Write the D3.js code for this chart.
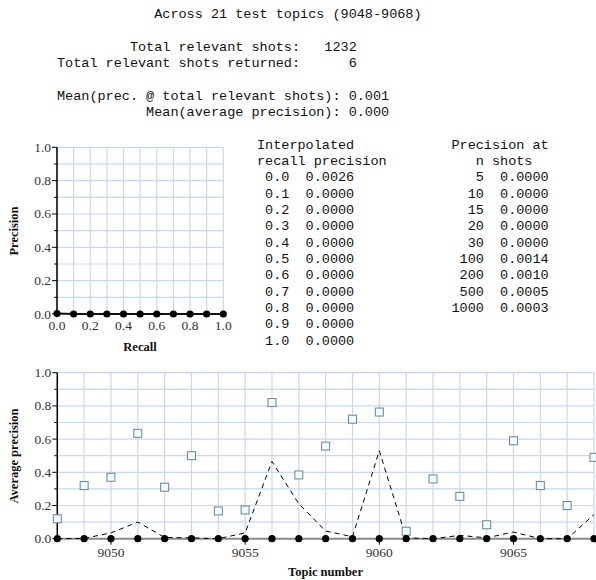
<!DOCTYPE html>
<html>
<head>
<meta charset="utf-8">
<script src="https://cdnjs.cloudflare.com/ajax/libs/d3/7.8.5/d3.min.js"></script>
<style>
  body { margin: 0; background: #fff; }
  svg text.mono { font-family: "Liberation Mono", "Courier New", monospace; font-size: 13.5px; white-space: pre; fill: #111; }
  svg text.title { font-family: "Liberation Serif", "Times New Roman", serif; font-size: 12.5px; font-weight: bold; fill: #111; }
</style>
</head>
<body>
<div id="chart"></div>
<script>

// SUMMARY TEXT
var summaryLines = [
  "            Across 21 test topics (9048-9068)",
  "",
  "         Total relevant shots:   1232",
  "Total relevant shots returned:      6",
  "",
  "Mean(prec. @ total relevant shots): 0.001",
  "           Mean(average precision): 0.000"
]

// INTERPOLATED RECALL / PRECISION
var recallLevels = [0.0, 0.1, 0.2, 0.3, 0.4, 0.5, 0.6, 0.7, 0.8, 0.9, 1.0]
var interpPrecision = [0.0026, 0.0000, 0.0000, 0.0000, 0.0000, 0.0000, 0.0000, 0.0000, 0.0000, 0.0000, 0.0000]

// PRECISION AT N SHOTS
var nShots = [5, 10, 15, 20, 30, 100, 200, 500, 1000]
var precAtN = [0.0000, 0.0000, 0.0000, 0.0000, 0.0000, 0.0014, 0.0010, 0.0005, 0.0003]

// PER TOPIC
var topics = d3.range(9048, 9069)
var topicBest = [0.12, 0.32, 0.37, 0.635, 0.31, 0.50, 0.167, 0.173, 0.82, 0.384, 0.558,
                 0.72, 0.763, 0.045, 0.36, 0.255, 0.084, 0.59, 0.32, 0.20, 0.49]
var topicMedian = [0.0, 0.002, 0.035, 0.10, 0.008, 0.005, 0.0, 0.035, 0.465, 0.21, 0.046,
                   0.012, 0.53, 0.005, 0.0, 0.02, 0.005, 0.04, 0.0, 0.0, 0.145]
var topicRun = [0, 0, 0, 0, 0, 0, 0, 0, 0, 0, 0, 0, 0, 0, 0, 0, 0, 0, 0, 0, 0]

var gridColor = "#c9d8f0"
var serifFont = "'Liberation Serif', 'Times New Roman', serif"
var lineH = 16.35

var svg = d3.select("#chart").append("svg")
    .attr("width", 596)
    .attr("height", 580)

/*
TEXT BLOCK
*/
svg.selectAll("text.sum")
    .data(summaryLines)
    .enter()
    .append("text")
    .attr("class", "mono sum")
    .attr("x", 57)
    .attr("y", (d, i) => 13.3 + i * lineH + 4.5)
    .text(d => d)

var tableLines = [
  "Interpolated            Precision at",
  "recall precision           n shots"
]
recallLevels.forEach(function(r, i) {
  var left = " " + r.toFixed(1) + "  " + interpPrecision[i].toFixed(4)
  var right = ""
  if (i < nShots.length) {
    right = String(nShots[i]).padStart(4, " ") + "  " + precAtN[i].toFixed(4)
  }
  tableLines.push(left.padEnd(24, " ") + right)
})

svg.selectAll("text.tab")
    .data(tableLines)
    .enter()
    .append("text")
    .attr("class", "mono tab")
    .attr("x", 257)
    .attr("y", (d, i) => 13.3 + (8 + i) * lineH + 4.5)
    .text(d => d)

// Y AXIS WITH MAJOR + MINOR TICKS
function yAxis(g, scale, x) {
  var ticks = d3.range(0, 1.0001, 0.1)
  g.append("line")
    .attr("x1", x).attr("x2", x)
    .attr("y1", scale(0)).attr("y2", scale(1))
    .attr("stroke", "#000").attr("stroke-width", 1.5)
  g.selectAll("line.tk")
    .data(ticks)
    .enter()
    .append("line")
    .attr("class", "tk")
    .attr("x1", (d, i) => i % 2 == 0 ? x - 5 : x - 3)
    .attr("x2", x)
    .attr("y1", d => scale(d)).attr("y2", d => scale(d))
    .attr("stroke", "#000").attr("stroke-width", 1)
  g.selectAll("text")
    .data(ticks.filter((d, i) => i % 2 == 0))
    .enter()
    .append("text")
    .attr("font-family", serifFont)
    .attr("font-size", "13.5px")
    .attr("fill", "#333")
    .attr("x", x - 6)
    .attr("y", d => scale(d) + 4.5)
    .attr("text-anchor", "end")
    .text(d => d.toFixed(1))
}

/*
RECALL - PRECISION CHART
*/
var rx = d3.scaleLinear().domain([0, 1]).range([57, 223.3])
var ry = d3.scaleLinear().domain([0, 1]).range([314, 147.3])

var g1 = svg.append("g")
g1.selectAll("line.vx")
    .data(d3.range(0, 1.0001, 0.1))
    .enter()
    .append("line")
    .attr("x1", d => rx(d)).attr("x2", d => rx(d))
    .attr("y1", ry(0)).attr("y2", ry(1))
    .attr("stroke", gridColor).attr("stroke-width", 1.2)
g1.selectAll("line.hy")
    .data(d3.range(0, 1.0001, 0.1))
    .enter()
    .append("line")
    .attr("x1", rx(0)).attr("x2", rx(1))
    .attr("y1", d => ry(d)).attr("y2", d => ry(d))
    .attr("stroke", gridColor).attr("stroke-width", 1.2)

yAxis(g1.append("g"), ry, 57)

g1.selectAll("text.xl")
    .data([0, 0.2, 0.4, 0.6, 0.8, 1.0])
    .enter()
    .append("text")
    .attr("class", "xl")
    .attr("font-family", serifFont)
    .attr("font-size", "13.5px")
    .attr("fill", "#333")
    .attr("x", d => rx(d))
    .attr("y", 330)
    .attr("text-anchor", "middle")
    .text(d => d.toFixed(1))

var rpLine = d3.line()
    .x((d, i) => rx(recallLevels[i]))
    .y(d => ry(d))
g1.append("path")
    .datum(interpPrecision)
    .attr("d", rpLine)
    .attr("fill", "none")
    .attr("stroke", "#111")
    .attr("stroke-width", 2)
g1.selectAll("circle")
    .data(interpPrecision)
    .enter()
    .append("circle")
    .attr("cx", (d, i) => rx(recallLevels[i]))
    .attr("cy", d => ry(d))
    .attr("r", 3.6)
    .attr("fill", "#000")

g1.append("text")
    .attr("class", "title")
    .attr("x", 140)
    .attr("y", 351)
    .attr("text-anchor", "middle")
    .text("Recall")
g1.append("text")
    .attr("class", "title")
    .attr("transform", "translate(18,231) rotate(-90)")
    .attr("text-anchor", "middle")
    .text("Precision")

/*
PER TOPIC CHART
*/
var tx = d3.scaleLinear().domain([9048, 9068]).range([57.3, 594])
var ty = d3.scaleLinear().domain([0, 1]).range([538.7, 372.7])

var g2 = svg.append("g")
g2.selectAll("line.vx")
    .data(topics)
    .enter()
    .append("line")
    .attr("x1", d => tx(d)).attr("x2", d => tx(d))
    .attr("y1", ty(0)).attr("y2", ty(1))
    .attr("stroke", gridColor).attr("stroke-width", 1.2)
g2.selectAll("line.hy")
    .data(d3.range(0, 1.0001, 0.1))
    .enter()
    .append("line")
    .attr("x1", tx(9048)).attr("x2", tx(9068))
    .attr("y1", d => ty(d)).attr("y2", d => ty(d))
    .attr("stroke", gridColor).attr("stroke-width", 1.2)

// run line (grey) along the bottom
var runLine = d3.line()
    .x((d, i) => tx(topics[i]))
    .y(d => ty(d))
g2.append("path")
    .datum(topicRun)
    .attr("d", runLine)
    .attr("fill", "none")
    .attr("stroke", "#8a8a8a")
    .attr("stroke-width", 2)

yAxis(g2.append("g"), ty, 57.3)

var majorTopics = [9050, 9055, 9060, 9065]
g2.selectAll("line.xt")
    .data(majorTopics)
    .enter()
    .append("line")
    .attr("x1", d => tx(d)).attr("x2", d => tx(d))
    .attr("y1", ty(0)).attr("y2", ty(0) + 6)
    .attr("stroke", "#000").attr("stroke-width", 1)
g2.selectAll("text.xl")
    .data(majorTopics)
    .enter()
    .append("text")
    .attr("class", "xl")
    .attr("font-family", serifFont)
    .attr("font-size", "13.5px")
    .attr("fill", "#333")
    .attr("x", d => tx(d))
    .attr("y", 557)
    .attr("text-anchor", "middle")
    .text(d => d)

// median (dashed)
g2.append("path")
    .datum(topicMedian)
    .attr("d", runLine)
    .attr("fill", "none")
    .attr("stroke", "#000")
    .attr("stroke-width", 1)
    .attr("stroke-dasharray", "5,4")

// best (squares)
g2.selectAll("rect.best")
    .data(topicBest)
    .enter()
    .append("rect")
    .attr("class", "best")
    .attr("x", (d, i) => tx(topics[i]) - 4)
    .attr("y", d => ty(d) - 4)
    .attr("width", 8)
    .attr("height", 8)
    .attr("fill", "#effcfc")
    .attr("stroke", "#6d8392")
    .attr("stroke-width", 1)

g2.selectAll("circle")
    .data(topicRun)
    .enter()
    .append("circle")
    .attr("cx", (d, i) => tx(topics[i]))
    .attr("cy", d => ty(d))
    .attr("r", 3.6)
    .attr("fill", "#000")

g2.append("text")
    .attr("class", "title")
    .attr("x", 325.5)
    .attr("y", 576)
    .attr("text-anchor", "middle")
    .text("Topic number")
g2.append("text")
    .attr("class", "title")
    .attr("transform", "translate(18,456) rotate(-90)")
    .attr("text-anchor", "middle")
    .text("Average precision")

</script>
</body>
</html>
